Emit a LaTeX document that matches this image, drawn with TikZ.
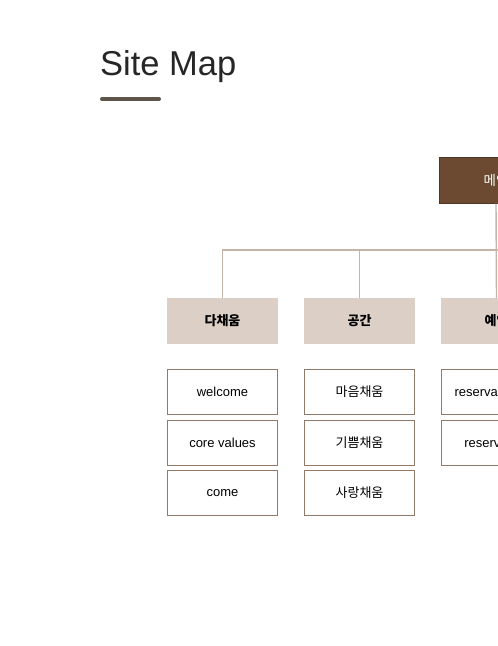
\documentclass[tikz,border=0pt]{standalone}
\usepackage{fontspec}
\setmainfont{Liberation Sans}
\newfontfamily\cjk{Noto Sans CJK KR}
\definecolor{topfill}{HTML}{6B4A31}
\definecolor{topdraw}{HTML}{4F3624}
\definecolor{grayfill}{HTML}{DCCFC6}
\definecolor{conncol}{HTML}{C6B4A9}
\definecolor{boxdraw}{HTML}{927A6B}
\definecolor{ulcol}{HTML}{5F544A}
\begin{document}
\begin{tikzpicture}[x=1pt,y=-1pt,
  topbox/.style={draw=topdraw,fill=topfill,line width=1pt,minimum width=114pt,minimum height=46pt,text=white,inner sep=0pt,font=\cjk\fontsize{13.5}{15}\selectfont},
  catbox/.style={fill=grayfill,minimum width=111pt,minimum height=46pt,inner sep=0pt,font=\cjk\bfseries\fontsize{13}{15}\selectfont},
  pagebox/.style={draw=boxdraw,fill=white,line width=1.2pt,minimum width=110pt,minimum height=45pt,inner sep=0pt,font=\fontsize{13}{15}\selectfont},
  kpage/.style={pagebox,font=\cjk\fontsize{13}{15}\selectfont},
  conn/.style={draw=conncol,line width=1.4pt}]
\useasboundingbox (0,0) rectangle (498,646);
\clip (0,0) rectangle (498,646);
\fill[white] (0,0) rectangle (498,646);
% title
\node[anchor=base west,inner sep=0pt,text=black!85,font=\fontsize{34.5}{40}\selectfont] (title) at (100,75) {Site Map};
\draw[ulcol,line width=4pt,line cap=round] (102,99) coordinate (ul1) -- (159,99) coordinate (ul2);
% nodes
\node[topbox] (top) at (496,180) {메인};
\node[catbox] (g1) at (222.5,321) {다채움};
\node[catbox] (g2) at (359.5,321) {공간};
\node[catbox] (g3) at (496.5,321) {예약};
\coordinate (h) at (0,250);
\coordinate (hend) at (600,250);
\draw[conn] (g1.north) -- (g1.north |- h) -- (hend);
\draw[conn] (g2.north) -- (g2.north |- h);
\draw[conn] (top.south) -- (g3.north);
\node[pagebox] (p11) at (222.5,392) {welcome};
\node[pagebox] (p12) at (222.5,443) {core values};
\node[pagebox] (p13) at (222.5,493) {come};
\node[kpage] (p21) at (359.5,392) {마음채움};
\node[kpage] (p22) at (359.5,443) {기쁨채움};
\node[kpage] (p23) at (359.5,493) {사랑채움};
\node[pagebox] (p31) at (496.5,392) {reservation list};
\node[pagebox] (p32) at (496.5,443) {reservation};
\end{tikzpicture}
\end{document}
